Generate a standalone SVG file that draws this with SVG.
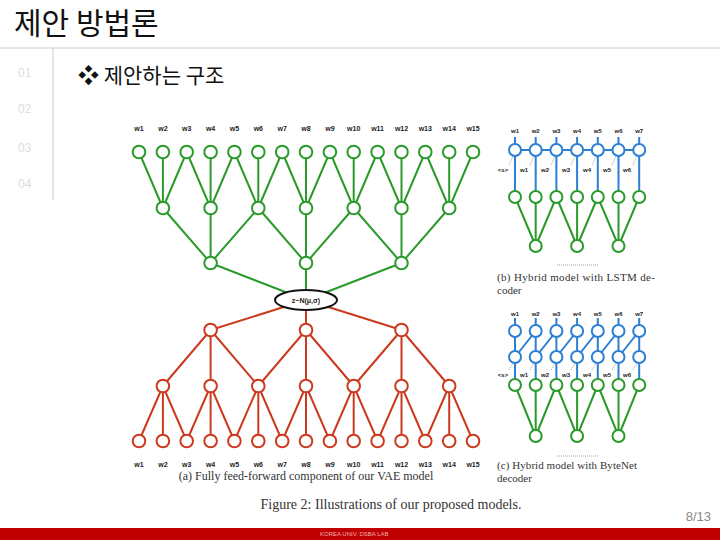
<svg xmlns="http://www.w3.org/2000/svg" width="720" height="540" viewBox="0 0 720 540">
<style>
.g{stroke:#2a9a2a;stroke-width:2;fill:none}
.r{stroke:#cc3a1e;stroke-width:2;fill:none}
.b{stroke:#2b7fd4;stroke-width:2;fill:none}
.gn{stroke:#2a9a2a;stroke-width:2;fill:#fff}
.rn{stroke:#cc3a1e;stroke-width:2;fill:#fff}
.bn{stroke:#2b7fd4;stroke-width:2;fill:#fff}
.dot{stroke:#888;stroke-width:0.8;stroke-dasharray:1 1;fill:none}
.wl{font-family:"Liberation Sans",Arial,sans-serif;font-size:7px;font-weight:bold;fill:#222;text-anchor:middle}
.ws{font-family:"Liberation Sans",Arial,sans-serif;font-size:6px;font-weight:bold;fill:#222;text-anchor:middle}
.cap{font-family:"Liberation Serif","Times New Roman",serif;fill:#333}
.side{font-family:"Liberation Sans",Arial,sans-serif;font-size:12px;fill:#ddd}
</style>
<rect width="720" height="540" fill="#fff"/>
<g id="header">
<text x="14" y="34" font-family="'Noto Sans CJK KR',sans-serif" font-size="30" fill="#111">제안 방법론</text>
<line x1="0" y1="48" x2="720" y2="48" stroke="#ccc" stroke-width="1"/>
<line x1="53" y1="48" x2="53" y2="200" stroke="#ccc" stroke-width="1"/>
<text x="78" y="83" font-family="'Noto Sans CJK KR',sans-serif" font-size="21" fill="#111">❖ 제안하는 구조</text>
<text class="side" x="18" y="77">01</text>
<text class="side" x="18" y="113" fill="#999">02</text>
<text class="side" x="18" y="152">03</text>
<text class="side" x="18" y="188">04</text>
</g>
<g id="connectors">
<path class="g" d="M139,152L162.9,208M162.9,152L162.9,208M186.7,152L162.9,208
M186.7,152L210.6,208M210.6,152L210.6,208M234.4,152L210.6,208
M234.4,152L258.3,208M258.3,152L258.3,208M282.2,152L258.3,208
M282.2,152L306,208M306,152L306,208M329.9,152L306,208
M329.9,152L353.7,208M353.7,152L353.7,208M377.6,152L353.7,208
M377.6,152L401.5,208M401.5,152L401.5,208M425.3,152L401.5,208
M425.3,152L449.2,208M449.2,152L449.2,208M473,152L449.2,208
M162.9,208L210.6,263M210.6,208L210.6,263M258.3,208L210.6,263
M258.3,208L306,263M306,208L306,263M353.7,208L306,263
M353.7,208L401.5,263M401.5,208L401.5,263M449.2,208L401.5,263
M210.6,263L306,300M306,263L306,300M401.5,263L306,300"/>
<path class="r" d="M306,300L210.6,330M306,300L306,330M306,300L401.5,330
M210.6,330L162.9,386M210.6,330L210.6,386M210.6,330L258.3,386
M306,330L258.3,386M306,330L306,386M306,330L353.7,386
M401.5,330L353.7,386M401.5,330L401.5,386M401.5,330L449.2,386
M162.9,386L139,441M162.9,386L162.9,441M162.9,386L186.7,441
M210.6,386L186.7,441M210.6,386L210.6,441M210.6,386L234.4,441
M258.3,386L234.4,441M258.3,386L258.3,441M258.3,386L282.2,441
M306,386L282.2,441M306,386L306,441M306,386L329.9,441
M353.7,386L329.9,441M353.7,386L353.7,441M353.7,386L377.6,441
M401.5,386L377.6,441M401.5,386L401.5,441M401.5,386L425.3,441
M449.2,386L425.3,441M449.2,386L449.2,441M449.2,386L473,441"/>
<path class="b" d="M515,137V197M535.7,137V197M556.4,137V197M577.1,137V197M597.8,137V197M618.5,137V197M639.2,137V197M515,150H639.2"/>
<path class="g" d="M515,197L535.7,246M535.7,197L535.7,246M556.4,197L535.7,246
M556.4,197L577.1,246M577.1,197L577.1,246M597.8,197L577.1,246
M597.8,197L618.5,246M618.5,197L618.5,246M639.2,197L618.5,246"/>
<path class="dot" d="M509,165L513,156M530,165L534,156M551,165L555,156M571,165L575,156M592,165L596,156M612,165L616,156M633,165L637,156"/>
<path class="b" d="M515,318V385M535.7,318V385M556.4,318V385M577.1,318V385M597.8,318V385M618.5,318V385M639.2,318V385
M515,357L535.7,331M535.7,357L556.4,331M556.4,357L577.1,331M577.1,357L597.8,331M597.8,357L618.5,331M618.5,357L639.2,331"/>
<path class="g" d="M515,385L535.7,436M535.7,385L535.7,436M556.4,385L535.7,436
M556.4,385L577.1,436M577.1,385L577.1,436M597.8,385L577.1,436
M597.8,385L618.5,436M618.5,385L618.5,436M639.2,385L618.5,436"/>
<path class="dot" d="M509,370L513,363M530,370L534,363M551,370L555,363M571,370L575,363M592,370L596,363M612,370L616,363M633,370L637,363"/>
<path class="dot" d="M557,265H598M557,456H598"/>
</g>
<g id="nodes-a">
<g id="a-top" class="gn">
<circle cx="139" cy="152" r="6.3"/><circle cx="162.9" cy="152" r="6.3"/><circle cx="186.7" cy="152" r="6.3"/><circle cx="210.6" cy="152" r="6.3"/><circle cx="234.4" cy="152" r="6.3"/><circle cx="258.3" cy="152" r="6.3"/><circle cx="282.2" cy="152" r="6.3"/><circle cx="306" cy="152" r="6.3"/><circle cx="329.9" cy="152" r="6.3"/><circle cx="353.7" cy="152" r="6.3"/><circle cx="377.6" cy="152" r="6.3"/><circle cx="401.5" cy="152" r="6.3"/><circle cx="425.3" cy="152" r="6.3"/><circle cx="449.2" cy="152" r="6.3"/><circle cx="473" cy="152" r="6.3"/>
<circle cx="162.9" cy="208" r="6.3"/><circle cx="210.6" cy="208" r="6.3"/><circle cx="258.3" cy="208" r="6.3"/><circle cx="306" cy="208" r="6.3"/><circle cx="353.7" cy="208" r="6.3"/><circle cx="401.5" cy="208" r="6.3"/><circle cx="449.2" cy="208" r="6.3"/>
<circle cx="210.6" cy="263" r="6.3"/><circle cx="306" cy="263" r="6.3"/><circle cx="401.5" cy="263" r="6.3"/>
</g>
<g id="a-bottom" class="rn">
<circle cx="210.6" cy="330" r="6.3"/><circle cx="306" cy="330" r="6.3"/><circle cx="401.5" cy="330" r="6.3"/>
<circle cx="162.9" cy="386" r="6.3"/><circle cx="210.6" cy="386" r="6.3"/><circle cx="258.3" cy="386" r="6.3"/><circle cx="306" cy="386" r="6.3"/><circle cx="353.7" cy="386" r="6.3"/><circle cx="401.5" cy="386" r="6.3"/><circle cx="449.2" cy="386" r="6.3"/>
<circle cx="139" cy="441" r="6.3"/><circle cx="162.9" cy="441" r="6.3"/><circle cx="186.7" cy="441" r="6.3"/><circle cx="210.6" cy="441" r="6.3"/><circle cx="234.4" cy="441" r="6.3"/><circle cx="258.3" cy="441" r="6.3"/><circle cx="282.2" cy="441" r="6.3"/><circle cx="306" cy="441" r="6.3"/><circle cx="329.9" cy="441" r="6.3"/><circle cx="353.7" cy="441" r="6.3"/><circle cx="377.6" cy="441" r="6.3"/><circle cx="401.5" cy="441" r="6.3"/><circle cx="425.3" cy="441" r="6.3"/><circle cx="449.2" cy="441" r="6.3"/><circle cx="473" cy="441" r="6.3"/>
</g>
<g id="z-node">
<ellipse cx="306" cy="300" rx="31" ry="10" fill="#fff" stroke="#111" stroke-width="2"/>
<text x="306" y="303" class="wl" font-size="8">z~N(μ,σ)</text>
</g>
<g id="a-labels">
<text class="wl" x="139" y="131">w1</text><text class="wl" x="162.9" y="131">w2</text><text class="wl" x="186.7" y="131">w3</text><text class="wl" x="210.6" y="131">w4</text><text class="wl" x="234.4" y="131">w5</text><text class="wl" x="258.3" y="131">w6</text><text class="wl" x="282.2" y="131">w7</text><text class="wl" x="306" y="131">w8</text><text class="wl" x="329.9" y="131">w9</text><text class="wl" x="353.7" y="131">w10</text><text class="wl" x="377.6" y="131">w11</text><text class="wl" x="401.5" y="131">w12</text><text class="wl" x="425.3" y="131">w13</text><text class="wl" x="449.2" y="131">w14</text><text class="wl" x="473" y="131">w15</text>
<text class="wl" x="139" y="467">w1</text><text class="wl" x="162.9" y="467">w2</text><text class="wl" x="186.7" y="467">w3</text><text class="wl" x="210.6" y="467">w4</text><text class="wl" x="234.4" y="467">w5</text><text class="wl" x="258.3" y="467">w6</text><text class="wl" x="282.2" y="467">w7</text><text class="wl" x="306" y="467">w8</text><text class="wl" x="329.9" y="467">w9</text><text class="wl" x="353.7" y="467">w10</text><text class="wl" x="377.6" y="467">w11</text><text class="wl" x="401.5" y="467">w12</text><text class="wl" x="425.3" y="467">w13</text><text class="wl" x="449.2" y="467">w14</text><text class="wl" x="473" y="467">w15</text>
<text class="cap" x="306" y="480" font-size="12" text-anchor="middle">(a) Fully feed-forward component of our VAE model</text>
</g>
</g>
<g id="nodes-b">
<g class="bn">
<circle cx="515" cy="150" r="6"/><circle cx="535.7" cy="150" r="6"/><circle cx="556.4" cy="150" r="6"/><circle cx="577.1" cy="150" r="6"/><circle cx="597.8" cy="150" r="6"/><circle cx="618.5" cy="150" r="6"/><circle cx="639.2" cy="150" r="6"/>
</g>
<g class="gn">
<circle cx="515" cy="197" r="6"/><circle cx="535.7" cy="197" r="6"/><circle cx="556.4" cy="197" r="6"/><circle cx="577.1" cy="197" r="6"/><circle cx="597.8" cy="197" r="6"/><circle cx="618.5" cy="197" r="6"/><circle cx="639.2" cy="197" r="6"/>
<circle cx="535.7" cy="246" r="6"/><circle cx="577.1" cy="246" r="6"/><circle cx="618.5" cy="246" r="6"/>
</g>
<text class="ws" x="515" y="133">w1</text><text class="ws" x="535.7" y="133">w2</text><text class="ws" x="556.4" y="133">w3</text><text class="ws" x="577.1" y="133">w4</text><text class="ws" x="597.8" y="133">w5</text><text class="ws" x="618.5" y="133">w6</text><text class="ws" x="639.2" y="133">w7</text>
<text class="ws" x="503" y="172">&lt;s&gt;</text><text class="ws" x="524" y="172">w1</text><text class="ws" x="545" y="172">w2</text><text class="ws" x="566" y="172">w3</text><text class="ws" x="587" y="172">w4</text><text class="ws" x="607" y="172">w5</text><text class="ws" x="627" y="172">w6</text>
<text class="cap" x="497" y="281" font-size="11" textLength="158" lengthAdjust="spacing">(b) Hybrid model with LSTM de-</text>
<text class="cap" x="497" y="294" font-size="11">coder</text>
</g>
<g id="nodes-c">
<g class="bn">
<circle cx="515" cy="331" r="6"/><circle cx="535.7" cy="331" r="6"/><circle cx="556.4" cy="331" r="6"/><circle cx="577.1" cy="331" r="6"/><circle cx="597.8" cy="331" r="6"/><circle cx="618.5" cy="331" r="6"/><circle cx="639.2" cy="331" r="6"/>
<circle cx="515" cy="357" r="6"/><circle cx="535.7" cy="357" r="6"/><circle cx="556.4" cy="357" r="6"/><circle cx="577.1" cy="357" r="6"/><circle cx="597.8" cy="357" r="6"/><circle cx="618.5" cy="357" r="6"/><circle cx="639.2" cy="357" r="6"/>
</g>
<g class="gn">
<circle cx="515" cy="385" r="6"/><circle cx="535.7" cy="385" r="6"/><circle cx="556.4" cy="385" r="6"/><circle cx="577.1" cy="385" r="6"/><circle cx="597.8" cy="385" r="6"/><circle cx="618.5" cy="385" r="6"/><circle cx="639.2" cy="385" r="6"/>
<circle cx="535.7" cy="436" r="6"/><circle cx="577.1" cy="436" r="6"/><circle cx="618.5" cy="436" r="6"/>
</g>
<text class="ws" x="515" y="316">w1</text><text class="ws" x="535.7" y="316">w2</text><text class="ws" x="556.4" y="316">w3</text><text class="ws" x="577.1" y="316">w4</text><text class="ws" x="597.8" y="316">w5</text><text class="ws" x="618.5" y="316">w6</text><text class="ws" x="639.2" y="316">w7</text>
<text class="ws" x="503" y="377">&lt;s&gt;</text><text class="ws" x="524" y="377">w1</text><text class="ws" x="545" y="377">w2</text><text class="ws" x="566" y="377">w3</text><text class="ws" x="587" y="377">w4</text><text class="ws" x="607" y="377">w5</text><text class="ws" x="627" y="377">w6</text>
<text class="cap" x="497" y="469" font-size="11" textLength="140" lengthAdjust="spacing">(c) Hybrid model with ByteNet</text>
<text class="cap" x="497" y="482" font-size="11">decoder</text>
</g>
<text class="cap" x="391" y="509" font-size="14" text-anchor="middle">Figure 2: Illustrations of our proposed models.</text>
<g id="footer">
<text x="711" y="521" font-family="'Liberation Sans',Arial,sans-serif" font-size="13" fill="#888" text-anchor="end">8/13</text>
<rect x="0" y="528" width="720" height="12" fill="#c00000"/>
<text x="320" y="536" font-family="'Liberation Sans',Arial,sans-serif" font-size="6" fill="#f0b0b0">KOREA UNIV. DSBA LAB</text>
</g>
</svg>
